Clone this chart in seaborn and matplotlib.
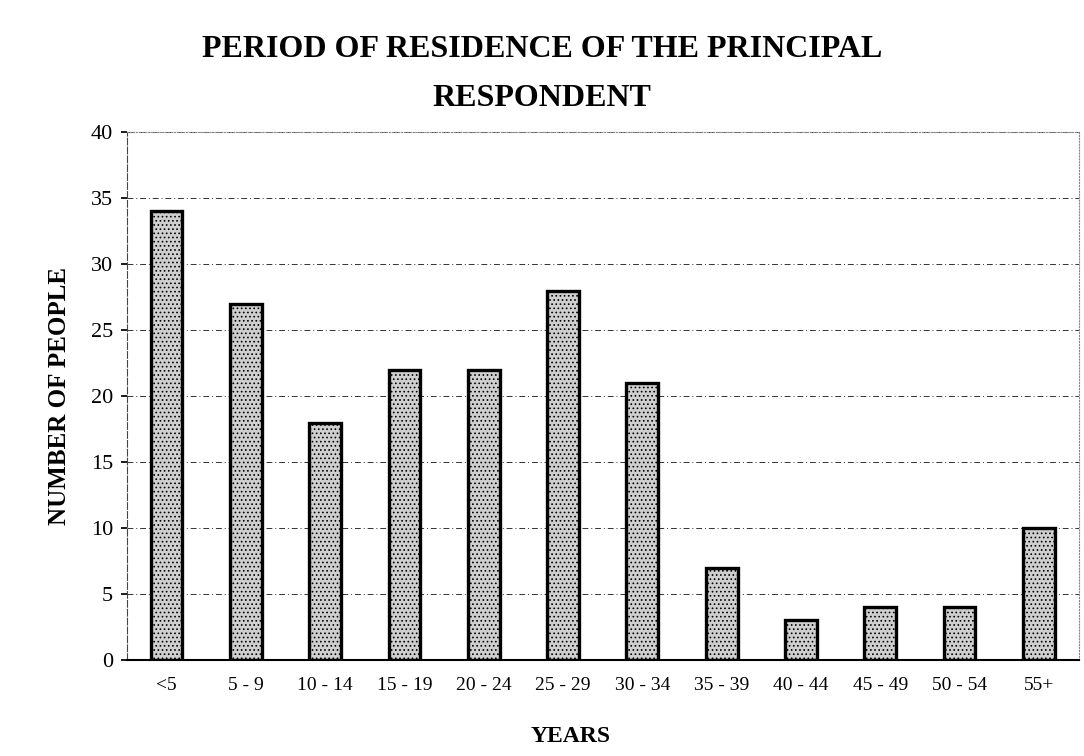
import numpy as np
import pandas as pd
import matplotlib
matplotlib.use("Agg")
import matplotlib.pyplot as plt
import seaborn as sns

# data
years = ["<5", "5 - 9", "10 - 14", "15 - 19", "20 - 24", "25 - 29",
         "30 - 34", "35 - 39", "40 - 44", "45 - 49", "50 - 54", "55+"]
people = [34, 27, 18, 22, 22, 28, 21, 7, 3, 4, 4, 10]
y_ticks = [0, 5, 10, 15, 20, 25, 30, 35, 40]

df = pd.DataFrame({"years": years, "people": people})

sns.set_theme(style="white")
plt.rcParams["font.family"] = ["Liberation Serif", "DejaVu Serif"]
plt.rcParams["text.color"] = "black"
plt.rcParams["axes.labelcolor"] = "black"
plt.rcParams["xtick.color"] = "black"
plt.rcParams["ytick.color"] = "black"
plt.rcParams["hatch.color"] = "#7a7a7a"
plt.rcParams["hatch.linewidth"] = 0.7

fig = plt.figure(figsize=(10.84, 7.56), dpi=100)
ax = fig.add_axes([0.117, 0.127, 0.878, 0.698])

sns.barplot(data=df, x="years", y="people", ax=ax, color="#cfcfcf",
            width=0.4, edgecolor="black", linewidth=2.4, saturation=1)
for p in ax.patches:
    p.set_hatch("....")

ax.set_ylim(0, 40)
ax.set_yticks(y_ticks)
ax.set_xlim(-0.5, len(years) - 0.5)
ax.yaxis.grid(True, color="#333333", linestyle=(0, (6, 3, 1, 3)), linewidth=0.7)
ax.set_axisbelow(True)

ax.tick_params(axis="y", labelsize=16, length=4, color="black", left=True, pad=6)
ax.tick_params(axis="x", labelsize=14, length=0, pad=12)

for side in ["top", "right"]:
    ax.spines[side].set_linestyle(":")
    ax.spines[side].set_color("#888888")
    ax.spines[side].set_linewidth(0.8)
ax.spines["left"].set_linestyle((0, (6, 2)))
ax.spines["left"].set_color("#444444")
ax.spines["left"].set_linewidth(0.8)
ax.spines["bottom"].set_color("black")
ax.spines["bottom"].set_linewidth(1.5)

ax.set_xlabel("YEARS", fontsize=17, fontweight="bold", labelpad=20)
ax.xaxis.set_label_coords(0.466, -0.125)
ax.set_ylabel("NUMBER OF PEOPLE", fontsize=18, fontweight="bold", labelpad=14)

fig.text(0.5, 0.902, "PERIOD OF RESIDENCE OF THE PRINCIPAL\nRESPONDENT",
         ha="center", va="center", fontsize=23, fontweight="bold",
         linespacing=1.9)

plt.savefig("out.png", dpi=100)
plt.close()
